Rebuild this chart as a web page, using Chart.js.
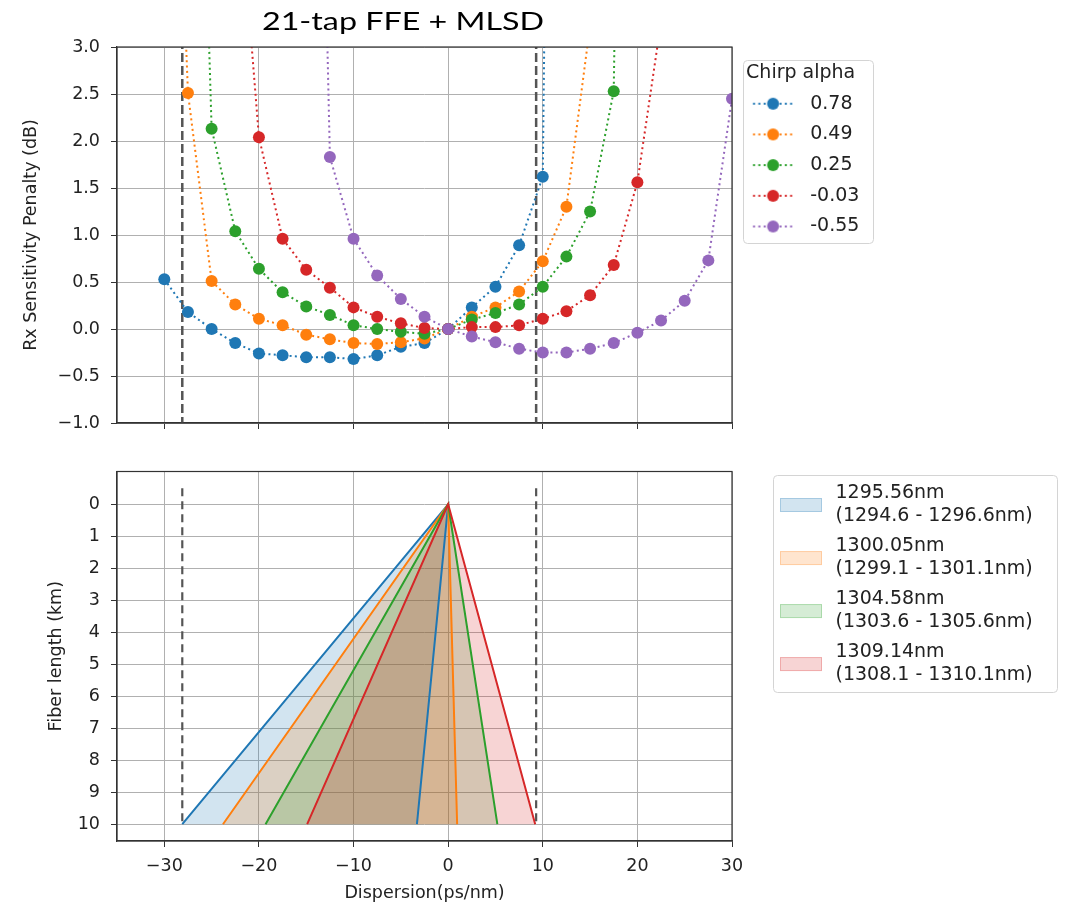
<!DOCTYPE html>
<html>
<head>
<meta charset="utf-8">
<script src="https://cdn.jsdelivr.net/npm/chart.js@4.4.1/dist/chart.umd.min.js"></script>
<style>
  body { margin: 0; background: #fff; }
  canvas { position: absolute; left: 0; }
</style>
</head>
<body>
<canvas id="penalty" width="1066" height="455" style="top:0px"></canvas>
<canvas id="fiber" width="1066" height="456" style="top:450px"></canvas>
<script>
// ---- data ----
const chartTitle = '21-tap FFE + MLSD';
const dispersion = [-30, -27.5, -25, -22.5, -20, -17.5, -15, -12.5, -10, -7.5, -5, -2.5, 0,
                    2.5, 5, 7.5, 10, 12.5, 15, 17.5, 20, 22.5, 25, 27.5, 30];
const chirpLabels = ['0.78', '0.49', '0.25', '-0.03', '-0.55'];
const alpha078 = [0.53, 0.18, 0.00, -0.15, -0.26, -0.28, -0.30, -0.30, -0.32, -0.28, -0.19, -0.15, 0,
                  0.23, 0.45, 0.89, 1.62, 24.6, null, null, null, null, null, null, null];
const alpha049 = [9.0, 2.51, 0.51, 0.26, 0.11, 0.04, -0.06, -0.11, -0.15, -0.16, -0.14, -0.10, 0,
                  0.13, 0.23, 0.40, 0.72, 1.30, 3.23, null, null, null, null, null, null];
const alpha025 = [null, 10.5, 2.13, 1.04, 0.64, 0.39, 0.24, 0.15, 0.04, 0.00, -0.03, -0.05, 0,
                  0.10, 0.17, 0.26, 0.45, 0.77, 1.25, 2.53, 20, null, null, null, null];
const alphaM003 = [null, null, null, 5.2, 2.04, 0.96, 0.63, 0.44, 0.23, 0.13, 0.06, 0.01, 0,
                   0.02, 0.02, 0.04, 0.11, 0.19, 0.36, 0.68, 1.56, 3.27, null, null, null];
const alphaM055 = [null, null, null, null, null, null, 13.1, 1.83, 0.96, 0.57, 0.32, 0.13, 0,
                   -0.08, -0.14, -0.21, -0.25, -0.25, -0.21, -0.15, -0.04, 0.09, 0.30, 0.73, 2.45];
const dispLimits = [-28.1, 9.3];

const penaltyTicks = [-1.0, -0.5, 0.0, 0.5, 1.0, 1.5, 2.0, 2.5, 3.0];
const dispTicks = [-30, -20, -10, 0, 10, 20, 30];
const fiberTicks = [0, 1, 2, 3, 4, 5, 6, 7, 8, 9, 10];

const bandLabels = ['1295.56nm\n(1294.6 - 1296.6nm)', '1300.05nm\n(1299.1 - 1301.1nm)',
                    '1304.58nm\n(1303.6 - 1305.6nm)', '1309.14nm\n(1308.1 - 1310.1nm)'];
const bandLow = [-28.1, -23.8, -19.3, -14.9];   // dispersion at 10 km, short edge
const bandHigh = [-3.3, 0.95, 5.2, 9.2];         // dispersion at 10 km, long edge
const fiberLen = 10;

// ---- styling ----
const tab = ['#1f77b4', '#ff7f0e', '#2ca02c', '#d62728', '#9467bd'];
const txt = '#222';
Chart.defaults.font.family = "'DejaVu Sans'";
Chart.defaults.color = txt;

function fade(hex, a) {
  const n = parseInt(hex.slice(1), 16);
  return `rgba(${n >> 16},${(n >> 8) & 255},${n & 255},${a})`;
}
const uminus = s => String(s).replace('-', '\u2212');

function lineMarker(color) {
  const c = document.createElement('canvas');
  c.width = 57; c.height = 14;
  const g = c.getContext('2d');
  g.strokeStyle = color; g.lineWidth = 2; g.setLineDash([2, 3.3]);
  g.beginPath(); g.moveTo(9.3, 7); g.lineTo(49.3, 7); g.stroke();
  g.fillStyle = color;
  g.beginPath(); g.arc(29.3, 7, 6, 0, Math.PI * 2); g.fill();
  return c;
}
function patchMarker(color) {
  const c = document.createElement('canvas');
  c.width = 88; c.height = 48;
  const g = c.getContext('2d');
  g.fillStyle = fade(color, 0.2); g.fillRect(42, 29, 42, 14);
  g.strokeStyle = fade(color, 0.25); g.lineWidth = 1; g.strokeRect(42.5, 29.5, 41, 13);
  return c;
}

const spines = {
  id: 'spines',
  afterDatasetsDraw(chart) {
    const {left, top, right, bottom} = chart.chartArea;
    const ctx = chart.ctx;
    ctx.save();
    ctx.strokeStyle = '#333'; ctx.lineWidth = 1.2;
    ctx.strokeRect(left, top, right - left, bottom - top);
    ctx.restore();
  }
};
const legendFrame = (dx, dy, w, h) => ({
  id: 'legendFrame',
  afterDraw(chart) {
    const lg = chart.legend, ctx = chart.ctx;
    ctx.save();
    ctx.strokeStyle = '#d4d4d4'; ctx.lineWidth = 1;
    ctx.beginPath();
    ctx.roundRect(Math.round(lg.left + dx) + 0.5, Math.round(lg.top + dy) + 0.5, w, h, 4);
    ctx.stroke();
    ctx.restore();
  }
});
const topTitle = {
  id: 'topTitle',
  afterDraw(chart) {
    const ctx = chart.ctx;
    ctx.save();
    ctx.font = "25px Lato";
    ctx.fillStyle = '#000'; ctx.textAlign = 'center'; ctx.textBaseline = 'middle';
    ctx.translate(403, 22);
    ctx.scale(1.29, 1);   // the title in the picture is a wide, stretched text box
    ctx.fillText(chartTitle, 0, 0);
    ctx.restore();
  }
};

const gridStyle = {color: '#b0b0b0', lineWidth: 1, tickColor: '#333', tickLength: 6};
const borderStyle = {color: '#333', width: 1.2};
const tickFont = {size: 17.5};
const legendFont = {size: 19, lineHeight: 1.237};

// ---- top: sensitivity penalty ----
const chirpSeries = [alpha078, alpha049, alpha025, alphaM003, alphaM055];
const markers = tab.map(lineMarker);
const topDatasets = chirpSeries.map((vals, i) => ({
  label: chirpLabels[i],
  data: dispersion.map((x, k) => ({x: x, y: vals[k]})).filter(p => p.y !== null),
  borderColor: tab[i],
  backgroundColor: tab[i],
  borderWidth: 2,
  borderDash: [2, 3.3],
  pointRadius: 6,
  pointHoverRadius: 6,
  pointBorderWidth: 0,
  pointBackgroundColor: tab[i],
  fill: false,
  order: chirpSeries.length - i
}));
dispLimits.forEach(x => topDatasets.push({
  label: '',
  data: [{x: x, y: -2}, {x: x, y: 4}],
  borderColor: '#555', borderWidth: 2.5, borderDash: [9, 4],
  pointRadius: 0, fill: false, order: 10
}));

const topChart = new Chart(document.getElementById('penalty'), {
  type: 'line',
  data: {datasets: topDatasets},
  options: {
    responsive: false,
    animation: false,
    events: [],
    layout: {padding: {left: 17, top: 47, right: 200, bottom: 24}},
    scales: {
      x: {
        type: 'linear', min: -35, max: 30,
        afterBuildTicks: s => { s.ticks = dispTicks.map(v => ({value: v})); },
        afterFit: s => { s.height = 8; },
        ticks: {callback: () => ''},
        grid: gridStyle, border: borderStyle
      },
      y: {
        min: -1, max: 3,
        afterBuildTicks: s => { s.ticks = penaltyTicks.map(v => ({value: v})); },
        afterFit: s => { s.width = 100; },
        ticks: {callback: v => uminus(v.toFixed(1)), font: tickFont, color: txt, padding: 11},
        grid: gridStyle, border: borderStyle,
        title: {display: true, text: 'Rx Sensitivity Penalty (dB)', font: tickFont, color: txt}
      }
    },
    plugins: {
      tooltip: {enabled: false},
      legend: {
        position: 'right', align: 'start',
        title: {display: true, text: 'Chirp alpha', color: txt,
                font: {size: 19, lineHeight: 1}, padding: {top: 16.5, bottom: 0}},
        labels: {
          usePointStyle: true, pointStyleWidth: 57, padding: 11.7,
          font: legendFont, color: txt,
          generateLabels(chart) {
            return Chart.defaults.plugins.legend.labels.generateLabels(chart)
              .filter(it => it.datasetIndex < chirpLabels.length)
              .sort((a, b) => a.datasetIndex - b.datasetIndex)
              .map(it => Object.assign(it, {pointStyle: markers[it.datasetIndex], fontColor: txt}));
          }
        }
      }
    }
  },
  plugins: [spines, legendFrame(11, 13, 130, 183), topTitle]
});

// ---- bottom: fiber length vs dispersion ----
const patches = tab.map(patchMarker);
const bottomDatasets = [];
bandLow.forEach((lo, i) => {
  const tri = [{x: lo, y: fiberLen}, {x: 0, y: 0}, {x: bandHigh[i], y: fiberLen}];
  bottomDatasets.push({
    label: bandLabels[i], data: tri,
    borderColor: 'rgba(0,0,0,0)', borderWidth: 0,
    backgroundColor: fade(tab[i], 0.2), fill: 'shape',
    pointRadius: 0, order: 20 - i
  });
  bottomDatasets.push({
    label: '', data: tri,
    borderColor: tab[i], borderWidth: 2, fill: false,
    pointRadius: 0, order: 10 - i
  });
});
dispLimits.forEach(x => bottomDatasets.push({
  label: '',
  data: [{x: x, y: -0.5}, {x: x, y: fiberLen}],
  borderColor: '#555', borderWidth: 2.2, borderDash: [8, 5],
  pointRadius: 0, fill: false, order: 1
}));

const bottomChart = new Chart(document.getElementById('fiber'), {
  type: 'line',
  data: {datasets: bottomDatasets},
  options: {
    responsive: false,
    animation: false,
    events: [],
    layout: {padding: {left: 42, top: 15, right: 0, bottom: 2}},
    scales: {
      x: {
        type: 'linear', min: -35, max: 30,
        afterBuildTicks: s => { s.ticks = dispTicks.map(v => ({value: v})); },
        afterFit: s => { s.height = 63; },
        ticks: {callback: v => uminus(v), font: tickFont, color: txt, padding: 9, maxRotation: 0},
        grid: gridStyle, border: borderStyle,
        title: {display: true, text: 'Dispersion(ps/nm)', font: tickFont, color: txt,
                padding: {top: 4, bottom: 0}}
      },
      y: {
        min: -1.025, max: 10.525, reverse: true,
        afterBuildTicks: s => { s.ticks = fiberTicks.map(v => ({value: v})); },
        afterFit: s => { s.width = 75; },
        ticks: {font: tickFont, color: txt, padding: 11},
        grid: gridStyle, border: borderStyle,
        title: {display: true, text: 'Fiber length (km)', font: tickFont, color: txt}
      }
    },
    plugins: {
      tooltip: {enabled: false},
      legend: {
        position: 'right', align: 'start',
        title: {display: true, text: ' ', font: {size: 10, lineHeight: 1}, padding: {top: 2.5, bottom: 0}},
        labels: {
          usePointStyle: true, pointStyleWidth: 88, padding: 6,
          font: legendFont, color: txt,
          generateLabels(chart) {
            return Chart.defaults.plugins.legend.labels.generateLabels(chart)
              .filter(it => it.text !== '')
              .sort((a, b) => a.datasetIndex - b.datasetIndex)
              .map((it, k) => Object.assign(it, {text: it.text.split('\n'), pointStyle: patches[k], fontColor: txt}));
          }
        }
      }
    }
  },
  plugins: [spines, legendFrame(41, 10, 284, 217)]
});

// the two-line legend entries are measured too narrow, so give that legend a fixed width
const bottomLegend = bottomChart.legend;
const legendFit = bottomLegend.fit.bind(bottomLegend);
bottomLegend.fit = function () { legendFit(); this.width = 1066 - 732; };
bottomChart.update();

// line the plot areas up with the reference (right edge of the axes at x = 732)
[topChart, bottomChart].forEach(ch => {
  const dx = ch.chartArea.right - 732;
  ch.options.layout.padding.right += dx;
  ch.update();
});
</script>
</body>
</html>
